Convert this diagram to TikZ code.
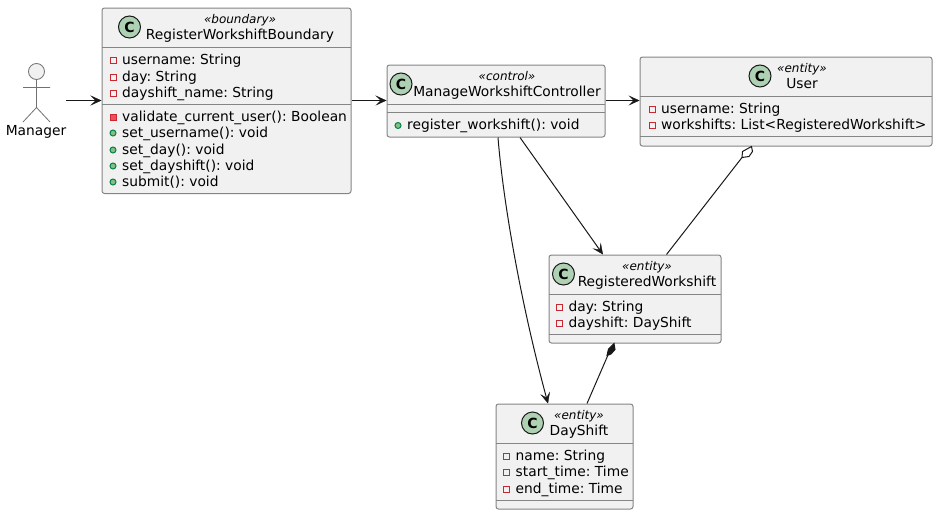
\documentclass[tikz,border=0pt]{standalone}
\usepackage{fontspec}
\setmainfont{DejaVu Sans}
\usetikzlibrary{arrows.meta}
\definecolor{boxfill}{HTML}{F1F1F1}
\definecolor{boxline}{HTML}{858585}
\definecolor{ink}{HTML}{181818}
\definecolor{iconfill}{HTML}{ADD1B2}
\definecolor{privline}{HTML}{C82930}
\definecolor{privfill}{HTML}{F24D5C}
\definecolor{publine}{HTML}{038048}
\definecolor{pubfill}{HTML}{84BE84}
\tikzset{
  classbox/.style={draw=boxline,fill=boxfill,line width=1pt,rounded corners=2.5pt,anchor=north west,inner sep=0pt},
  divider/.style={draw=boxline,line width=1pt},
  txt/.style={inner sep=0pt,anchor=base west,text=black,font=\fontsize{13.8}{16}\selectfont\frenchspacing},
  stereo/.style={inner sep=0pt,anchor=base,text=black,font=\fontsize{12}{14}\selectfont\itshape},
  cicon/.style={circle,draw=ink,fill=iconfill,line width=1pt,minimum size=22pt,inner sep=0pt,font=\fontsize{14}{16}\selectfont\bfseries},
  conn/.style={draw=ink,line width=1pt},
  arr/.style={conn,-{Stealth[length=11pt,width=10pt,inset=5pt,line width=0.4pt]}},
  privm/.style={draw=privline,line width=1pt,fill=none},
  privf/.style={draw=privline,line width=1pt,fill=privfill},
  pubf/.style={draw=publine,line width=1pt,fill=pubfill},
  actorline/.style={draw=boxline!85!black,line width=0.8pt}
}
\newcommand{\attr}[4]{% name x baseline text
  \draw[privm] (#2-3,#3-7) rectangle (#2+3,#3-1);
  \node[txt] (#1) at (#2+9,#3) {#4};}
\newcommand{\privop}[4]{%
  \draw[privf] (#2-3,#3-7) rectangle (#2+3,#3-1);
  \node[txt] (#1) at (#2+9,#3) {#4};}
\newcommand{\pubop}[4]{%
  \draw[pubf] (#2,#3-4) circle (3pt);
  \node[txt] (#1) at (#2+9,#3) {#4};}
\begin{document}
\begin{tikzpicture}[x=1pt,y=-1pt]
\useasboundingbox (0,0) rectangle (937,514);
% actor
\draw[actorline,fill=boxfill] (36.5,71.5) circle (8pt);
\draw[actorline] (36.5,79.5) -- (36.5,107.5) (23,87.5) -- (50,87.5) (23,122) -- (36.5,107.5) -- (50,122);
\node[txt,anchor=base] (manager) at (36,135) {Manager};
\coordinate (actorout) at (66,100.5);
% boundary
\node[classbox,minimum width=249pt,minimum height=185.5pt] (bnd) at (101.5,7.5) {};
\draw[divider] (101.5,47.5) -- (350.5,47.5) (101.5,104.5) -- (350.5,104.5);
\node[cicon] (bndc) at (129.5,27) {C};
\node[stereo] (bnds) at (240,23.5) {«boundary»};
\node[txt,anchor=base] (bndn) at (240,39.5) {RegisterWorkshiftBoundary};
\attr{b1}{113}{64}{username: String}
\attr{b2}{113}{81}{day: String}
\attr{b3}{113}{97}{dayshift\_name: String}
\privop{b4}{113}{121}{validate\_current\_user(): Boolean}
\pubop{b5}{113}{137}{set\_username(): void}
\pubop{b6}{113}{154}{set\_day(): void}
\pubop{b7}{113}{170}{set\_dayshift(): void}
\pubop{b8}{113}{186}{submit(): void}
% controller
\node[classbox,minimum width=218pt,minimum height=72pt] (ctl) at (386.5,64.5) {};
\draw[divider] (386.5,104.5) -- (604.5,104.5) (386.5,112.5) -- (604.5,112.5);
\node[cicon] (ctlc) at (401,84) {C};
\node[stereo] (ctls) at (507,80.5) {«control»};
\node[txt,anchor=base] (ctln) at (507,96.5) {ManageWorkshiftController};
\pubop{c1}{398}{129.5}{register\_workshift(): void}
% user
\node[classbox,minimum width=292pt,minimum height=89pt] (usr) at (639.5,56.5) {};
\draw[divider] (639.5,96.5) -- (931.5,96.5) (639.5,136.5) -- (931.5,136.5);
\node[cicon] (usrc) at (760,76) {C};
\node[stereo] (usrs) at (802,72.5) {«entity»};
\node[txt,anchor=base] (usrn) at (802,88.5) {User};
\attr{u1}{652}{113}{username: String}
\attr{u2}{652}{129.5}{workshifts: List<RegisteredWorkshift>}
% registered
\node[classbox,minimum width=172pt,minimum height=88pt] (reg) at (548.5,254.5) {};
\draw[divider] (548.5,294.5) -- (720.5,294.5) (548.5,334.5) -- (720.5,334.5);
\node[cicon] (regc) at (563.5,274) {C};
\node[stereo] (regs) at (647,270.5) {«entity»};
\node[txt,anchor=base] (regn) at (647,286.5) {RegisteredWorkshift};
\attr{r1}{559.5}{311}{day: String}
\attr{r2}{559.5}{327.5}{dayshift: DayShift}
% dayshift
\node[classbox,minimum width=137pt,minimum height=105pt] (day) at (495.5,403.5) {};
\draw[divider] (495.5,443.5) -- (632.5,443.5) (495.5,500.5) -- (632.5,500.5);
\node[cicon] (dayc) at (532.5,423) {C};
\node[stereo] (days) at (579,419.5) {«entity»};
\node[txt,anchor=base] (dayn) at (579,435.5) {DayShift};
\attr{d1}{506.5}{460}{name: String}
\attr{d2}{506.5}{476.5}{start\_time: Time}
\attr{d3}{506.5}{493}{end\_time: Time}
% connectors
\draw[arr] (actorout) -- ([yshift=-93pt]bnd.north west);
\draw[arr] ([yshift=-93pt]bnd.north east) -- ([yshift=-36pt]ctl.north west);
\draw[arr] ([yshift=-36pt]ctl.north east) -- ([yshift=-44pt]usr.north west);
\draw[arr] ([xshift=133.5pt]ctl.south west) -- ([xshift=54.5pt]reg.north west);
\draw[arr] ([xshift=111.5pt]ctl.south west) .. controls (503,200) and (520,300) .. ([xshift=52.5pt]day.north west);
\draw[conn] ([xshift=118pt]reg.north west) -- (742,157.5);
\draw[conn,fill=white] ([xshift=112pt]usr.south west) -- (752.5,151.5) -- (749,156.5) -- (742,157.5) -- (742.5,151.5) -- cycle;
\draw[conn] ([xshift=91.5pt]day.north west) -- (608,355);
\draw[conn,fill=ink] ([xshift=65.5pt]reg.south west) -- (615,349.5) -- (611,354) -- (607,355.5) -- (608.5,349) -- cycle;
\end{tikzpicture}
\end{document}
